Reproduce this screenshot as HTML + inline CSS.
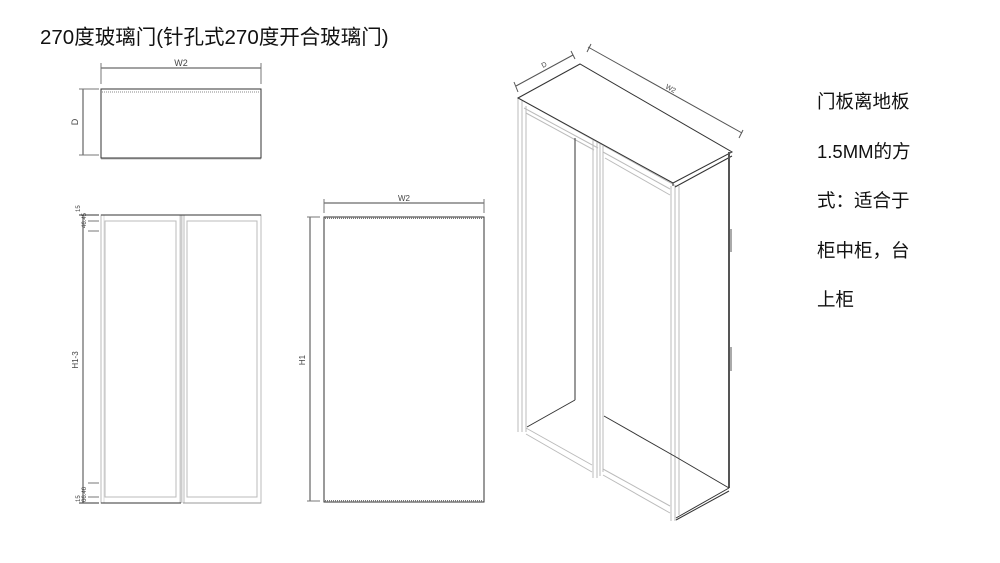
<!DOCTYPE html>
<html><head><meta charset="utf-8"><style>
html,body{margin:0;padding:0;background:#fff;width:1000px;height:563px;overflow:hidden}
.t{position:absolute;font-family:"Liberation Sans","Noto Sans CJK SC",sans-serif;color:#111;white-space:nowrap}
</style></head><body>
<div class="t" style="left:40px;top:20px;font-size:20.5px;">270度玻璃门(针孔式270度开合玻璃门)</div>
<div class="t" style="left:817px;top:77px;font-size:18.5px;line-height:49.5px;">门板离地板<br>1.5MM的方<br>式：适合于<br>柜中柜，台<br>上柜</div>
<svg width="1000" height="563" style="position:absolute;left:0;top:0" font-family="Liberation Sans,sans-serif">
<g fill="none" stroke-width="1">
<!-- top view -->
<line x1="101" y1="68" x2="261" y2="68" stroke="#444"/>
<line x1="101" y1="63" x2="101" y2="84" stroke="#777"/><line x1="261" y1="63" x2="261" y2="84" stroke="#777"/>
<rect x="101" y="89" width="160" height="69" stroke="#333"/>
<line x1="102" y1="92" x2="260" y2="92" stroke="#888" stroke-dasharray="1,1"/>
<line x1="83" y1="89" x2="83" y2="155" stroke="#444"/>
<line x1="79" y1="89" x2="99" y2="89" stroke="#777"/><line x1="79" y1="155" x2="99" y2="155" stroke="#777"/>
<line x1="101" y1="159" x2="261" y2="159" stroke="#bbb"/>
<!-- front view -->
<rect x="101" y="215" width="79" height="288" stroke="#bbb"/>
<rect x="105" y="221" width="71" height="276" stroke="#bbb"/>
<rect x="184" y="215" width="77" height="288" stroke="#bbb"/>
<rect x="187" y="221" width="70" height="276" stroke="#bbb"/>
<line x1="181" y1="215" x2="181" y2="503" stroke="#ccc" stroke-width="3"/>
<line x1="104" y1="215" x2="104" y2="503" stroke="#ddd"/>
<line x1="83" y1="215" x2="83" y2="503" stroke="#444"/>
<line x1="79" y1="215" x2="99" y2="215" stroke="#333"/><line x1="79" y1="503" x2="99" y2="503" stroke="#333"/>
<line x1="88" y1="221" x2="99" y2="221" stroke="#777"/><line x1="88" y1="231" x2="99" y2="231" stroke="#777"/>
<line x1="88" y1="483" x2="99" y2="483" stroke="#777"/><line x1="88" y1="497" x2="99" y2="497" stroke="#777"/>
<line x1="101" y1="215" x2="261" y2="215" stroke="#333"/>
<line x1="101" y1="503" x2="181" y2="503" stroke="#333"/>
<line x1="183" y1="503" x2="261" y2="503" stroke="#999"/>
<!-- middle view -->
<line x1="324" y1="203" x2="484" y2="203" stroke="#444"/>
<line x1="324" y1="199" x2="324" y2="213" stroke="#777"/><line x1="484" y1="199" x2="484" y2="213" stroke="#777"/>
<line x1="310" y1="217" x2="310" y2="501" stroke="#444"/>
<line x1="307" y1="217" x2="320" y2="217" stroke="#777"/><line x1="307" y1="501" x2="320" y2="501" stroke="#777"/>
<rect x="324" y="217" width="160" height="285" stroke="#333"/>
<line x1="325" y1="218" x2="483" y2="218" stroke="#777" stroke-width="2" stroke-dasharray="1,1"/>
<line x1="325" y1="501" x2="483" y2="501" stroke="#777" stroke-width="2" stroke-dasharray="1,1"/>
<!-- iso view -->
<line x1="516" y1="86" x2="573" y2="55" stroke="#555"/>
<line x1="514" y1="82" x2="518" y2="92" stroke="#555"/><line x1="571" y1="51" x2="575" y2="59" stroke="#555"/>
<line x1="588" y1="47" x2="742" y2="133" stroke="#555"/>
<line x1="587" y1="52" x2="591" y2="44" stroke="#555"/><line x1="739" y1="138" x2="743" y2="130" stroke="#555"/>
<g stroke="#bbb">
<line x1="518" y1="98" x2="518" y2="432"/><line x1="522" y1="100" x2="522" y2="432"/><line x1="526" y1="106" x2="526" y2="432"/>
<line x1="518" y1="98" x2="676" y2="186"/><line x1="524" y1="108" x2="598" y2="148"/><line x1="526" y1="113" x2="594" y2="150"/>
<line x1="526" y1="428" x2="592" y2="465"/><line x1="526" y1="434" x2="592" y2="472"/>
<line x1="593" y1="140" x2="593" y2="478"/><line x1="597" y1="142" x2="597" y2="478"/><line x1="600" y1="144" x2="600" y2="476"/><line x1="603" y1="146" x2="603" y2="472"/>
<line x1="603" y1="152" x2="670" y2="189"/><line x1="605" y1="158" x2="670" y2="195"/>
<line x1="603" y1="469" x2="670" y2="506"/><line x1="603" y1="475" x2="670" y2="513"/>
<line x1="671" y1="186" x2="671" y2="521"/><line x1="675" y1="186" x2="675" y2="521"/><line x1="679" y1="186" x2="679" y2="515"/>
</g>
<polygon points="518,98 580,64 732,152 673,183" stroke="#333"/>
<line x1="673" y1="183" x2="673" y2="186" stroke="#333"/>
<line x1="675" y1="187" x2="732" y2="156" stroke="#333"/>
<line x1="729" y1="152" x2="729" y2="488" stroke="#555" stroke-width="2"/>
<line x1="731" y1="229" x2="731" y2="252" stroke="#555"/><line x1="731" y1="347" x2="731" y2="371" stroke="#555"/>
<line x1="575" y1="138" x2="575" y2="400" stroke="#333"/>
<line x1="575" y1="400" x2="527" y2="427" stroke="#333"/>
<line x1="604" y1="416" x2="676" y2="457" stroke="#333"/>
<line x1="676" y1="457" x2="729" y2="488" stroke="#333"/>
<line x1="729" y1="488" x2="676" y2="518" stroke="#333"/>
<line x1="729" y1="491" x2="676" y2="520" stroke="#333"/>
</g>
<g font-size="7" fill="#444">
<text x="181" y="66" text-anchor="middle" font-size="9">W2</text>
<text x="78" y="122" transform="rotate(-90 78 122)" text-anchor="middle" font-size="9">D</text>
<text x="404" y="201" text-anchor="middle" font-size="8">W2</text>
<text x="305" y="360" transform="rotate(-90 305 360)" text-anchor="middle" font-size="8">H1</text>
<text x="78" y="360" transform="rotate(-90 78 360)" text-anchor="middle" font-size="8">H1-3</text>
<text x="80" y="212" transform="rotate(-90 80 212)" font-size="6">15</text>
<text x="86" y="228" transform="rotate(-90 86 228)" font-size="6">46.45</text>
<text x="80" y="502" transform="rotate(-90 80 502)" font-size="6">15</text>
<text x="86" y="502" transform="rotate(-90 86 502)" font-size="6">66.46</text>
<text x="543" y="68" transform="rotate(-29 543 68)" font-size="7">D</text>
<text x="665" y="88" transform="rotate(29 665 88)" font-size="7">W2</text>
</g>
</svg>
</body></html>
